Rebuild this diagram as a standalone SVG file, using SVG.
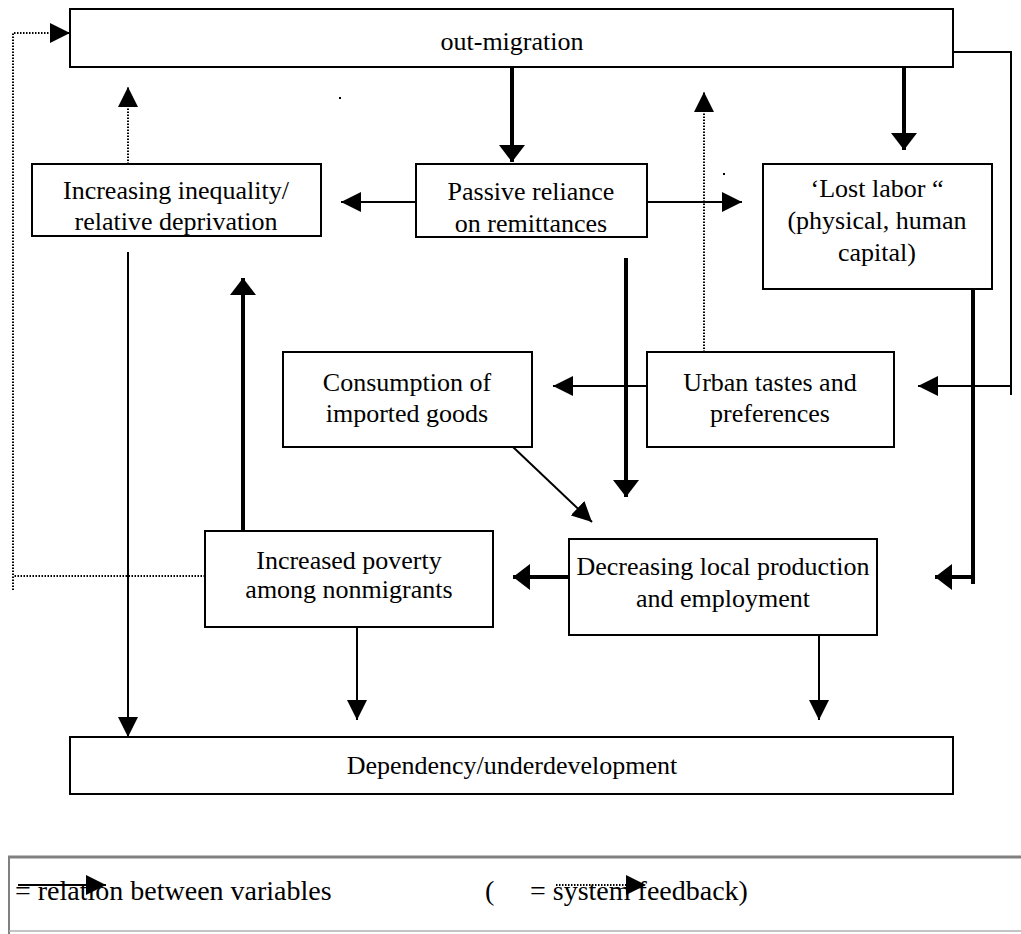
<svg xmlns="http://www.w3.org/2000/svg" width="1021" height="934" viewBox="0 0 1021 934">
<style>
  .box { fill: #fff; stroke: #000; stroke-width: 2; }
  .t { font-family: "Liberation Serif", "Times New Roman", serif; font-size: 26px; fill: #000; text-anchor: middle; }
  .lg { font-family: "Liberation Serif", "Times New Roman", serif; font-size: 28px; fill: #000; }
  .thick { stroke: #000; stroke-width: 4; fill: none; }
  .thin { stroke: #000; stroke-width: 2; fill: none; }
  .dot { stroke: #000; stroke-width: 2; fill: none; stroke-dasharray: 1.5 1.5; }
</style>
<defs>
  <marker id="hThick" markerUnits="userSpaceOnUse" markerWidth="17" markerHeight="26" refX="17" refY="13" orient="auto">
    <path d="M0,0 L17,13 L0,26 z" fill="#000"/>
  </marker>
  <marker id="hThin" markerUnits="userSpaceOnUse" markerWidth="20" markerHeight="20" refX="20" refY="10" orient="auto">
    <path d="M0,0 L20,10 L0,20 z" fill="#000"/>
  </marker>
</defs>
<rect width="1021" height="934" fill="#fff"/>

<g id="connectors">
  <path class="thick" d="M512,67 V162" marker-end="url(#hThick)"/>
  <path class="thick" d="M904,55 V150" marker-end="url(#hThick)"/>
  <path class="thin" d="M953,52 H1011 V395"/>
  <path class="thin" d="M1011,386 H918" marker-end="url(#hThin)"/>
  <path class="thin" d="M416,202 H341" marker-end="url(#hThin)"/>
  <path class="thin" d="M647,202 H742" marker-end="url(#hThin)"/>
  <path class="thick" d="M626,258 V497" marker-end="url(#hThick)"/>
  <path class="dot" d="M704,352 V92" marker-end="url(#hThin)"/>
  <path class="dot" d="M128,164 V87" marker-end="url(#hThin)"/>
  <path class="thin" d="M128,252 V737" marker-end="url(#hThin)"/>
  <path class="thick" d="M243,531 V278" marker-end="url(#hThick)"/>
  <path class="dot" d="M205,576 H13"/>
  <path class="dot" d="M13,590 V33 H70" marker-end="url(#hThin)"/>
  <path class="thin" d="M357,624 V720" marker-end="url(#hThin)"/>
  <path class="thick" d="M569,577 H513" marker-end="url(#hThick)"/>
  <path class="thin" d="M819,624 V720" marker-end="url(#hThin)"/>
  <path class="thin" d="M513,447 L592,522" marker-end="url(#hThin)"/>
  <path class="thin" d="M647,386 H553" marker-end="url(#hThin)"/>
  <path class="thick" d="M973,286 V584"/>
  <path class="thick" d="M973,577 H935" marker-end="url(#hThick)"/>
</g>

<g id="n-outmigration">
  <rect class="box" x="70" y="9" width="883" height="58"/>
  <text class="t" x="512" y="50">out-migration</text>
</g>
<g id="n-inequality">
  <rect class="box" x="32" y="164" width="289" height="72"/>
  <text class="t" x="176" y="199">Increasing inequality/</text>
  <text class="t" x="176" y="230">relative deprivation</text>
</g>
<g id="n-remittances">
  <rect class="box" x="416" y="164" width="231" height="73"/>
  <text class="t" x="531" y="200">Passive reliance</text>
  <text class="t" x="531" y="232">on remittances</text>
</g>
<g id="n-lostlabor">
  <rect class="box" x="763" y="164" width="229" height="125"/>
  <text class="t" x="877" y="197">‘Lost labor “</text>
  <text class="t" x="877" y="229">(physical, human</text>
  <text class="t" x="877" y="261">capital)</text>
</g>
<g id="n-consumption">
  <rect class="box" x="283" y="352" width="249" height="95"/>
  <text class="t" x="407" y="391">Consumption of</text>
  <text class="t" x="407" y="422">imported goods</text>
</g>
<g id="n-urban">
  <rect class="box" x="647" y="352" width="247" height="95"/>
  <text class="t" x="770" y="391">Urban tastes and</text>
  <text class="t" x="770" y="422">preferences</text>
</g>
<g id="n-poverty">
  <rect class="box" x="205" y="531" width="288" height="96"/>
  <text class="t" x="349" y="569">Increased poverty</text>
  <text class="t" x="349" y="598">among nonmigrants</text>
</g>
<g id="n-production">
  <rect class="box" x="569" y="539" width="308" height="96"/>
  <text class="t" x="723" y="575">Decreasing local production</text>
  <text class="t" x="723" y="607">and employment</text>
</g>
<g id="n-dependency">
  <rect class="box" x="70" y="737" width="883" height="57"/>
  <text class="t" x="512" y="774">Dependency/underdevelopment</text>
</g>

<rect x="339" y="97" width="2" height="2" fill="#000"/>
<rect x="723" y="173" width="2" height="2" fill="#000"/>

<g id="legend">
  <line x1="8" y1="857" x2="1021" y2="857" stroke="#808080" stroke-width="3"/>
  <line x1="9" y1="857" x2="9" y2="934" stroke="#808080" stroke-width="2"/>
  <line x1="9" y1="931" x2="1021" y2="931" stroke="#b0b0b0" stroke-width="1.5"/>
  <text class="lg" x="15" y="900">= relation between variables</text>
  <text class="lg" x="485" y="900">(</text>
  <text class="lg" x="530" y="900">= system feedback)</text>
  <path class="thin" d="M18,885 H106" marker-end="url(#hThin)"/>
  <path class="dot" d="M556,885 H646" marker-end="url(#hThin)"/>
</g>
</svg>
